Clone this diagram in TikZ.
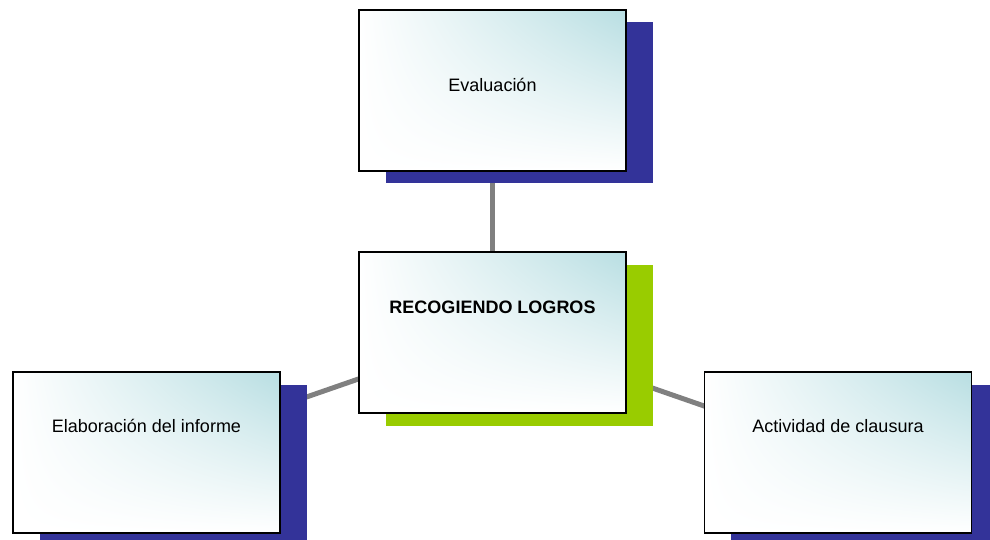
\documentclass[tikz,border=0pt]{standalone}
\usepackage{fontspec}
\setmainfont{Liberation Sans}
\usetikzlibrary{shadows,backgrounds,shadings}
\definecolor{shblue}{RGB}{51,51,153}
\definecolor{shgreen}{RGB}{153,204,0}
\definecolor{teal1}{RGB}{184,222,226}
\definecolor{linegray}{RGB}{128,128,128}
\tikzset{
  box/.style={draw=black, line width=1.6pt, minimum width=267pt, minimum height=161pt, inner sep=0pt,
    shade, upper right=teal1, upper left=white, lower left=white, lower right=white},
  blueshadow/.style={general shadow={fill=shblue, shadow xshift=26.5pt, shadow yshift=-12.5pt}},
  greenshadow/.style={general shadow={fill=shgreen, shadow xshift=26.5pt, shadow yshift=-12.5pt}},
  lbl/.style={anchor=base, inner sep=0pt, font=\fontsize{18}{21}\selectfont},
  conn/.style={draw=linegray, line width=5pt}
}
\begin{document}
\begin{tikzpicture}[x=1pt,y=1pt]
\useasboundingbox (0,0) rectangle (990,539);
\node[box, blueshadow] (top) at (492.5,448.5) {};
\node[box, greenshadow] (ctr) at (492.5,206.5) {};
\node[box, blueshadow] (lft) at (146.5,86.5) {};
\node[box, blueshadow] (rgt) at (838,86.5) {};
\node[lbl] (ttop) at (492.5,447) {Evaluación};
\node[lbl, font=\fontsize{18}{21}\selectfont\bfseries] (tctr) at (492.5,226) {RECOGIENDO LOGROS};
\node[lbl] (tlft) at (146.5,107) {Elaboración del informe};
\node[lbl] (trgt) at (838,107) {Actividad de clausura};
\begin{scope}[on background layer]
\draw[conn] (ctr.center) -- (top.center);
\draw[conn] (ctr.center) -- (lft.center);
\draw[conn] (ctr.center) -- (rgt.center);
\end{scope}
\end{tikzpicture}
\end{document}
